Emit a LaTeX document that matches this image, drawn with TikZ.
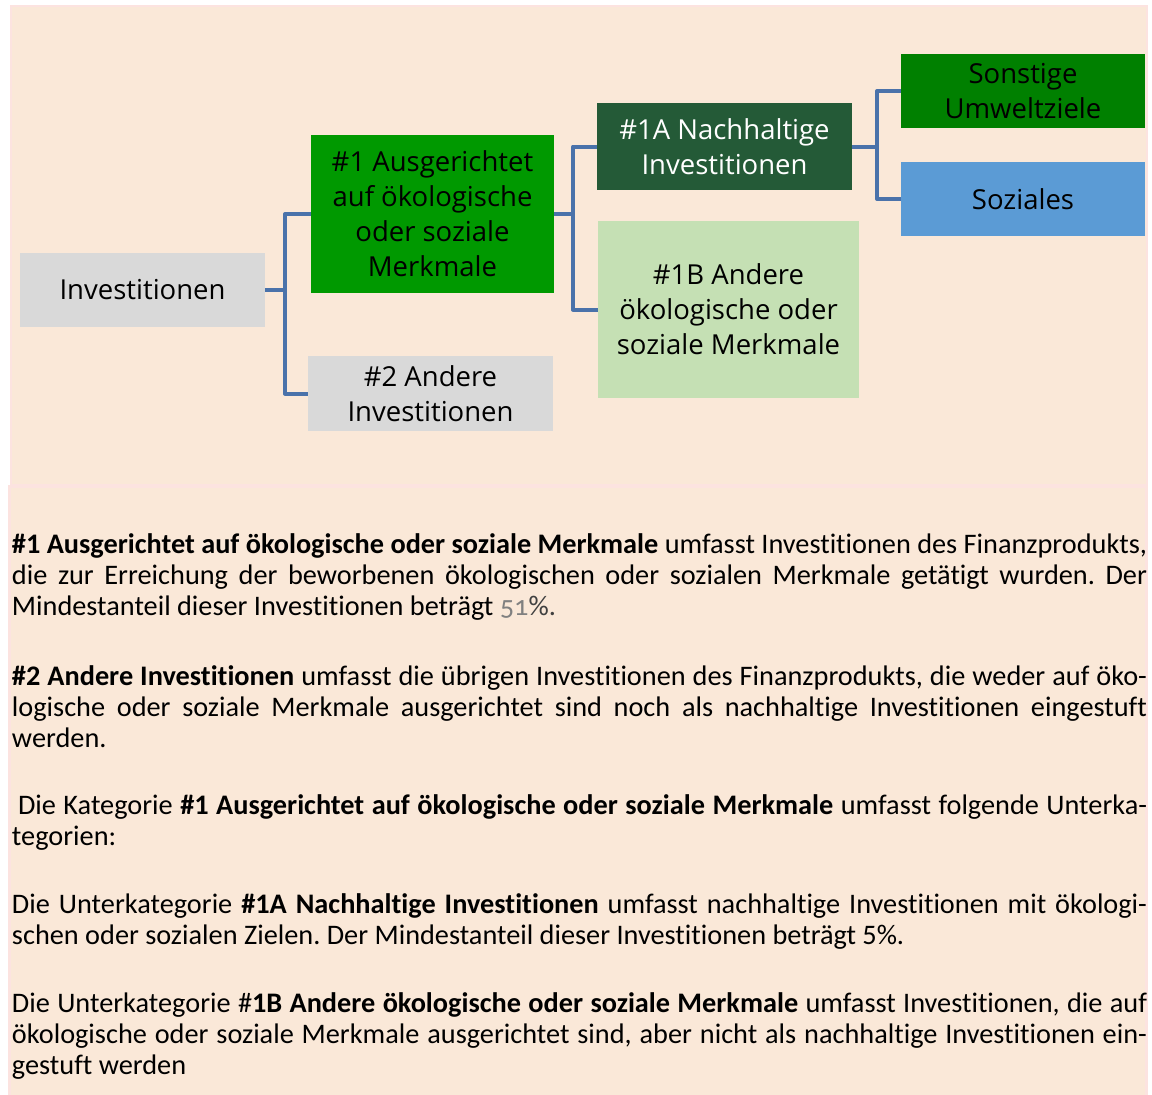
\documentclass[tikz,border=0pt]{standalone}
\usepackage{fontspec}
\setmainfont{Carlito}[Ligatures=NoCommon]
\newfontfamily\dfont{Open Sans}
\usetikzlibrary{calc}
\definecolor{peach}{HTML}{FAE8D8}
\definecolor{pinkedge}{HTML}{FCE3E0}
\definecolor{boxgrey}{HTML}{D9D9D9}
\definecolor{green1}{HTML}{009900}
\definecolor{darkgreen}{HTML}{245A37}
\definecolor{lightgreen}{HTML}{C5E0B4}
\definecolor{green2}{HTML}{008000}
\definecolor{skyblue}{HTML}{5B9BD5}
\definecolor{connblue}{HTML}{4A72AA}
\definecolor{numgrey}{HTML}{808080}
\newcommand{\jline}[1]{\hbox to 1135pt{#1}}
\newcommand{\lline}[1]{\hbox to 1135pt{#1\hfil}}
\newcommand{\bodyfont}{\fontsize{28.3}{31}\selectfont\frenchspacing}
\tikzset{
  box/.style={anchor=north west, inner sep=0pt, outer sep=0pt, align=center,
    font=\dfont\fontsize{27.5}{35}\selectfont},
  conn/.style={draw=connblue, line width=4pt, line join=round},
  para/.style={anchor=base west, inner sep=0pt, outer sep=0pt, font=\bodyfont}
}
\begin{document}
\begin{tikzpicture}[x=1pt,y=-1pt]
\useasboundingbox (0,0) rectangle (1152,1095);
\fill[white] (0,0) rectangle (1152,1095);
% panels
\filldraw[fill=peach, draw=pinkedge, line width=2pt] (11,6) rectangle (1147,485);
\filldraw[fill=peach, draw=pinkedge, line width=3pt] (9.5,486) rectangle (1146,1096);
% boxes
\node[box, fill=boxgrey, minimum width=245pt, minimum height=74pt] (inv) at (20,253) {Investitionen};
\node[box, fill=green1, minimum width=243pt, minimum height=158pt] (n1) at (311,135) {\#1 Ausgerichtet\\auf ökologische\\oder soziale\\Merkmale};
\node[box, fill=boxgrey, minimum width=245pt, minimum height=75pt] (n2) at (308,356) {\#2 Andere\\Investitionen};
\node[box, fill=darkgreen, text=white, minimum width=255pt, minimum height=87pt] (n1a) at (597,103) {\#1A Nachhaltige\\Investitionen};
\node[box, fill=lightgreen, minimum width=261pt, minimum height=177pt] (n1b) at (598,221) {\#1B Andere\\ökologische oder\\soziale Merkmale};
\node[box, fill=green2, minimum width=244pt, minimum height=74pt] (son) at (901,54) {Sonstige\\Umweltziele};
\node[box, fill=skyblue, minimum width=244pt, minimum height=74pt] (soz) at (901,162) {Soziales};
% connectors
\coordinate (j1) at ($(inv.east)+(20,0)$);
\draw[conn] (inv.east) -- (j1) |- (n1.west);
\draw[conn] (j1) |- (n2.west);
\coordinate (j2) at ($(n1.east)+(19,0)$);
\draw[conn] (n1.east) -- (j2) |- (n1a.west);
\draw[conn] (j2) |- (n1b.west);
\coordinate (j3) at ($(n1a.east)+(25,0)$);
\draw[conn] (n1a.east) -- (j3) |- (son.west);
\draw[conn] (j3) |- (soz.west);
% text
\node[para] (p1) at (12,553) {\vtop{\baselineskip=31pt
\jline{\textbf{\#1 Ausgerichtet auf ökologische oder soziale Merkmale} umfasst Investitionen des Finanzprodukts,}
\jline{die zur Erreichung der beworbenen ökologischen oder sozialen Merkmale getätigt wurden. Der}
\lline{Mindestanteil dieser Investitionen beträgt {\color{numgrey}\addfontfeatures{Numbers=OldStyle}51}{\color{darkgray}\%.}}}};
\node[para] (p2) at (12,685) {\vtop{\baselineskip=31pt
\jline{\textbf{\#2 Andere Investitionen} umfasst die übrigen Investitionen des Finanzprodukts, die weder auf öko-}
\jline{logische oder soziale Merkmale ausgerichtet sind noch als nachhaltige Investitionen eingestuft}
\lline{werden.}}};
\node[para] (p3) at (12,814) {\vtop{\baselineskip=31pt
\jline{\hspace{6pt}Die Kategorie \textbf{\#1 Ausgerichtet auf ökologische oder soziale Merkmale} umfasst folgende Unterka-}
\lline{tegorien:}}};
\node[para] (p4) at (12,913) {\vtop{\baselineskip=31pt
\jline{Die Unterkategorie \textbf{\#1A Nachhaltige Investitionen} umfasst nachhaltige Investitionen mit ökologi-}
\lline{schen oder sozialen Zielen. Der Mindestanteil dieser Investitionen beträgt 5\%.}}};
\node[para] (p5) at (12,1012) {\vtop{\baselineskip=31pt
\jline{Die Unterkategorie \#\textbf{1B Andere ökologische oder soziale Merkmale} umfasst Investitionen, die auf}
\jline{ökologische oder soziale Merkmale ausgerichtet sind, aber nicht als nachhaltige Investitionen ein-}
\lline{gestuft werden}}};
\end{tikzpicture}
\end{document}
